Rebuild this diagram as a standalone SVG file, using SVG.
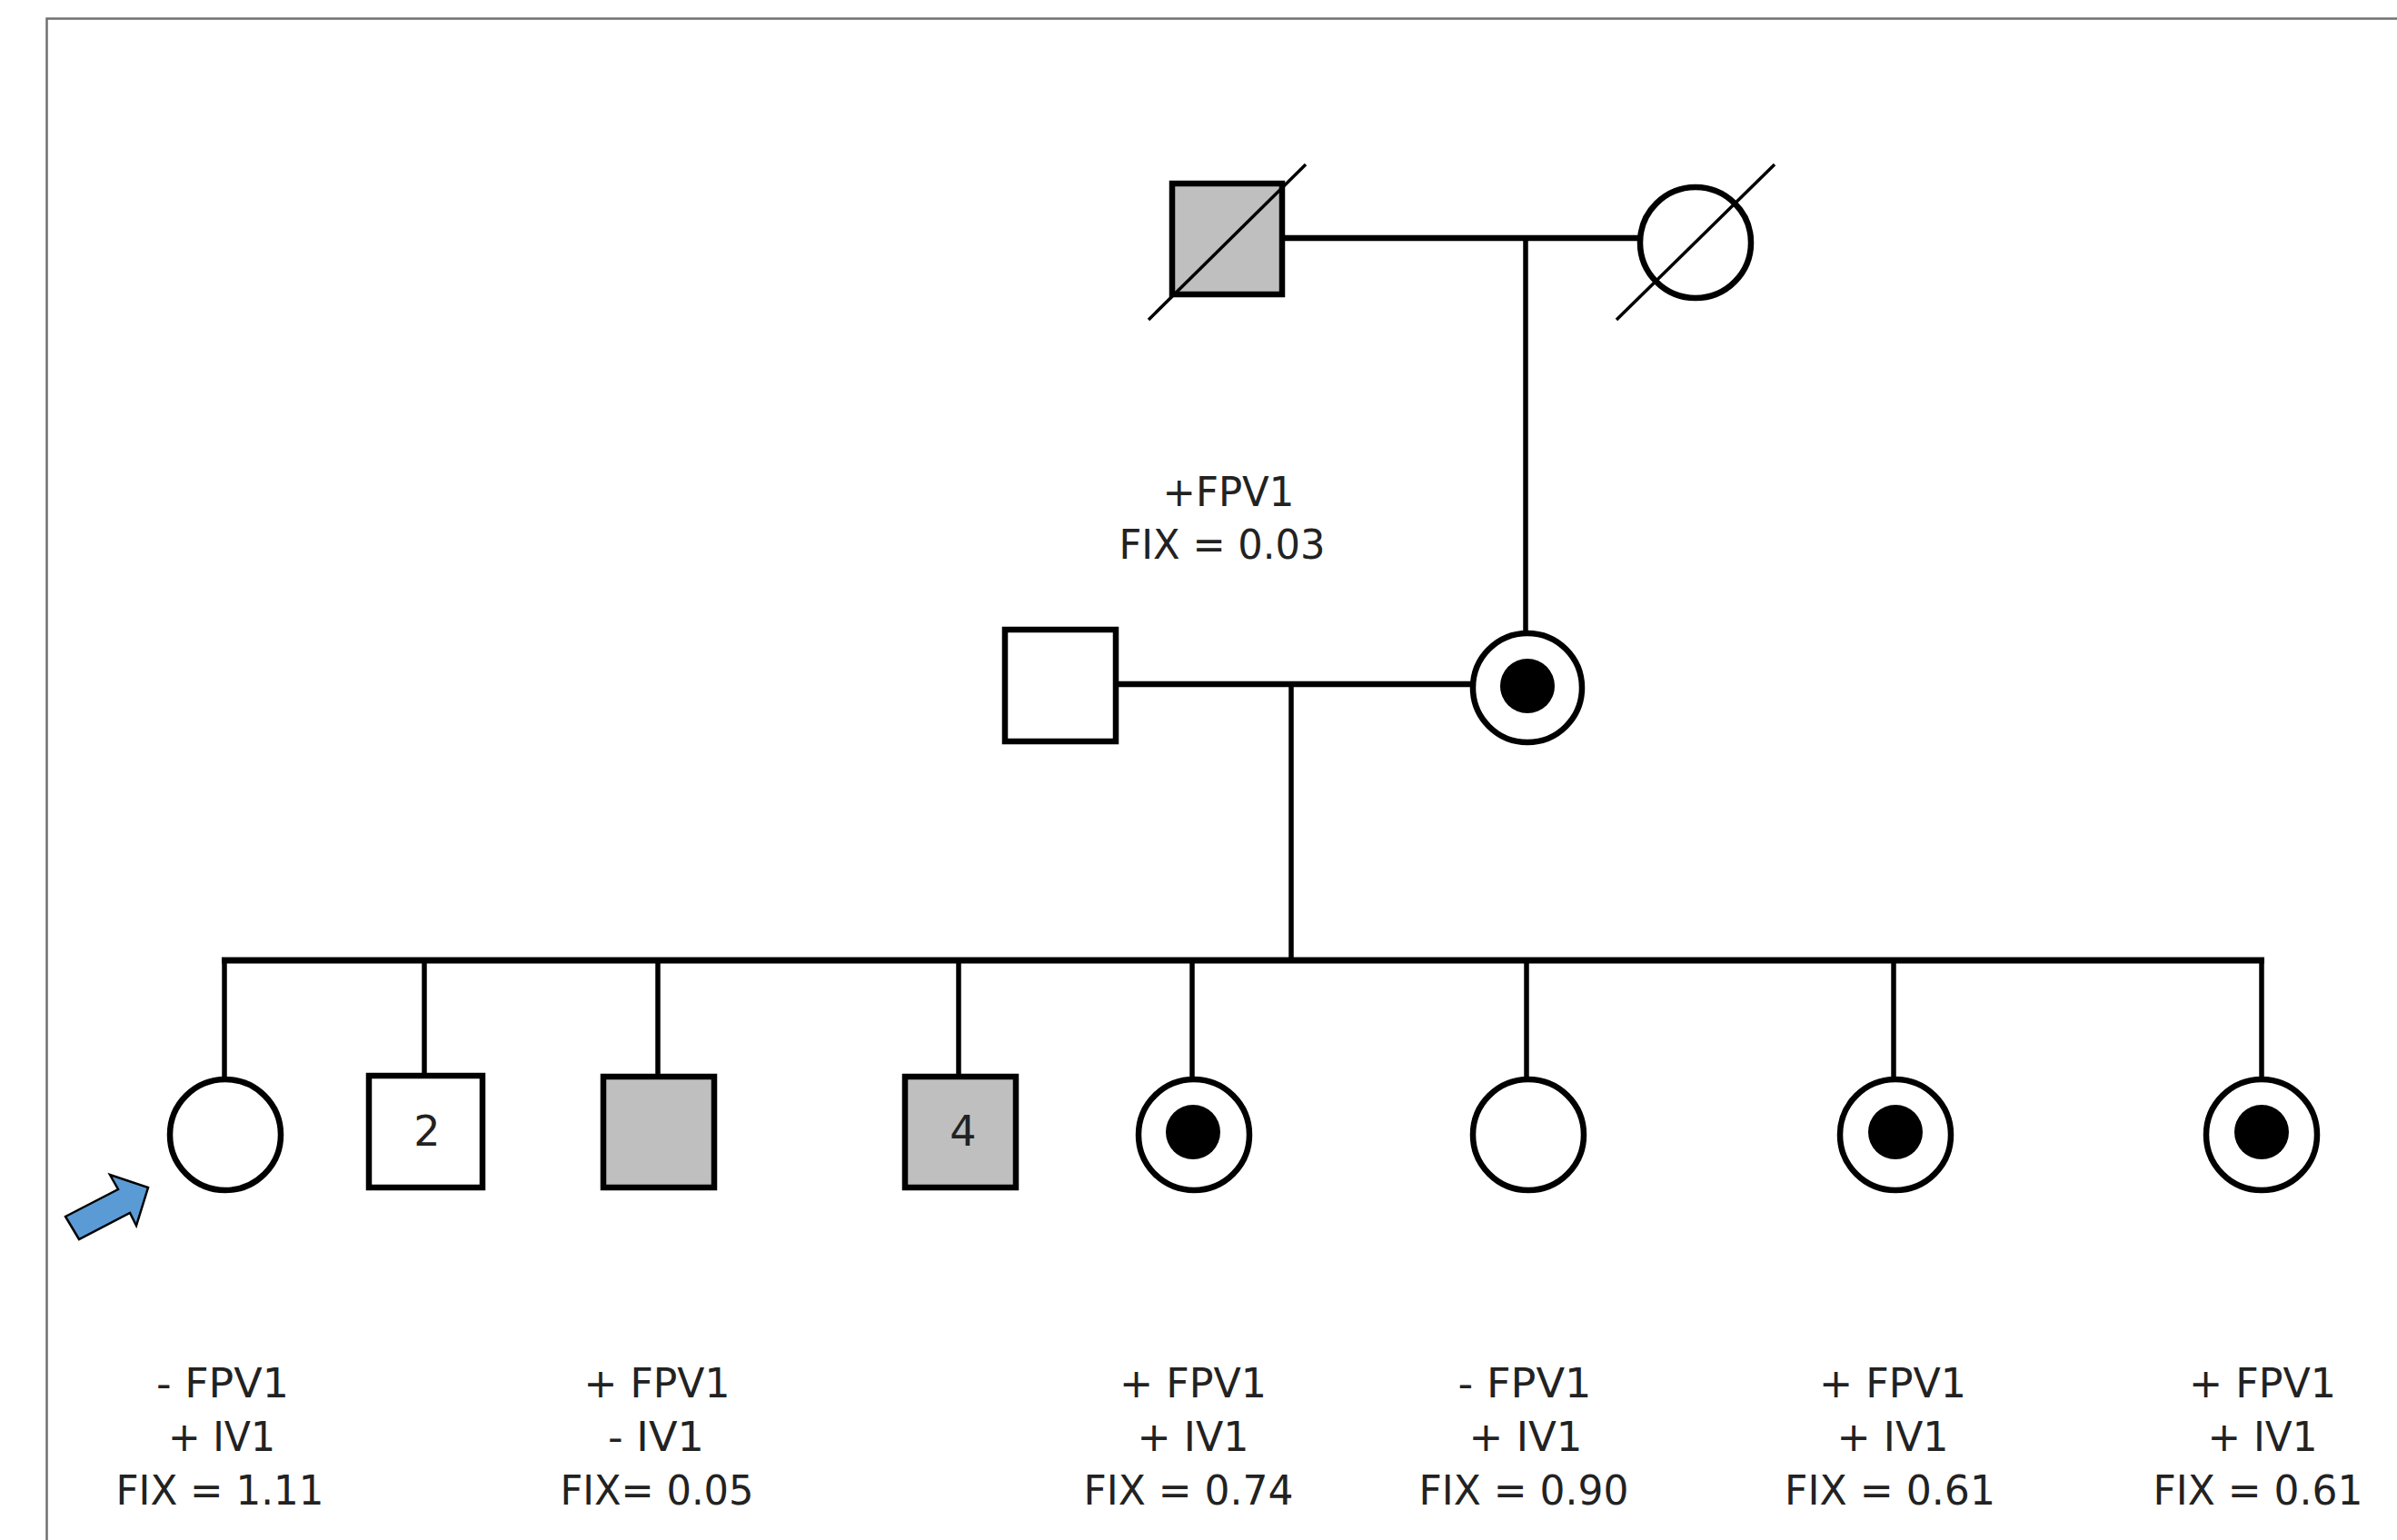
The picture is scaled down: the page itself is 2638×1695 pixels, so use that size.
<svg xmlns="http://www.w3.org/2000/svg" width="2638" height="1695" viewBox="0 0 2638 1695">
<style>
.bg{fill:#ffffff}
.frame{stroke:#707070;stroke-width:2.5;fill:none}
.ln{stroke:#000;stroke-width:5.5;fill:none;stroke-linecap:butt}
.sib{stroke:#000;stroke-width:7;fill:none}
.mar{stroke:#000;stroke-width:6.5;fill:none}
.sym{stroke:#000;stroke-width:6.5;fill:#fff}
.aff{stroke:#000;stroke-width:6.5;fill:#bfbfbf}
.dot{fill:#000}
.slash{stroke:#000;stroke-width:3.5}
.lbl{font-family:"DejaVu Sans","Liberation Sans",sans-serif;font-size:44px;fill:#222;text-anchor:middle}
.num{font-family:"DejaVu Sans","Liberation Sans",sans-serif;font-size:46px;fill:#222;text-anchor:middle}
.arrow{fill:#5b9bd5;stroke:#000;stroke-width:2.5;stroke-linejoin:miter}
</style>
<rect class="bg" x="0" y="0" width="2638" height="1695"/>
<path class="frame" d="M51.5,1695 V20.5 H2638"/>

<g id="connectors">
  <line class="mar" x1="1413" y1="262" x2="1803" y2="262"/>
  <line class="ln" x1="1679" y1="262" x2="1679" y2="694"/>
  <line class="mar" x1="1230" y1="753" x2="1620" y2="753"/>
  <line class="ln" x1="1421" y1="753" x2="1421" y2="1057"/>
  <line class="sib" x1="244" y1="1057" x2="2492" y2="1057"/>
  <line class="ln" x1="247" y1="1057" x2="247" y2="1188"/>
  <line class="ln" x1="467" y1="1057" x2="467" y2="1185"/>
  <line class="ln" x1="724" y1="1057" x2="724" y2="1185"/>
  <line class="ln" x1="1055" y1="1057" x2="1055" y2="1185"/>
  <line class="ln" x1="1312" y1="1057" x2="1312" y2="1188"/>
  <line class="ln" x1="1680" y1="1057" x2="1680" y2="1188"/>
  <line class="ln" x1="2084" y1="1057" x2="2084" y2="1188"/>
  <line class="ln" x1="2489" y1="1057" x2="2489" y2="1188"/>
</g>

<g id="grandfather">
  <rect class="aff" x="1290" y="202" width="121" height="122"/>
  <line class="slash" x1="1264" y1="352" x2="1437" y2="181"/>
</g>
<g id="grandmother">
  <circle class="sym" cx="1866" cy="267" r="61"/>
  <line class="slash" x1="1779" y1="352" x2="1953" y2="181"/>
</g>

<g id="mother-label">
  <text class="lbl" x="1352" y="557" textLength="145" lengthAdjust="spacingAndGlyphs">+FPV1</text>
  <text class="lbl" x="1345" y="615" textLength="227" lengthAdjust="spacingAndGlyphs">FIX = 0.03</text>
</g>

<g id="father">
  <rect class="sym" x="1106" y="693" width="122" height="123"/>
</g>
<g id="mother">
  <circle class="sym" cx="1681" cy="757" r="60"/>
  <circle class="dot" cx="1681" cy="755" r="30"/>
</g>

<g id="child1">
  <circle class="sym" cx="248" cy="1249" r="61"/>
</g>
<g id="child2">
  <rect class="sym" x="406" y="1184" width="125" height="123"/>
  <text class="num" x="470" y="1261">2</text>
</g>
<g id="child3">
  <rect class="aff" x="664" y="1185" width="122" height="122"/>
</g>
<g id="child4">
  <rect class="aff" x="996" y="1185" width="122" height="122"/>
  <text class="num" x="1060" y="1261">4</text>
</g>
<g id="child5">
  <circle class="sym" cx="1314" cy="1249" r="61"/>
  <circle class="dot" cx="1313" cy="1246" r="30"/>
</g>
<g id="child6">
  <circle class="sym" cx="1682" cy="1249" r="61"/>
</g>
<g id="child7">
  <circle class="sym" cx="2086" cy="1249" r="61"/>
  <circle class="dot" cx="2086" cy="1246" r="30"/>
</g>
<g id="child8">
  <circle class="sym" cx="2489" cy="1249" r="61"/>
  <circle class="dot" cx="2489" cy="1246" r="30"/>
</g>

<g id="proband-arrow">
  <polygon class="arrow" points="72,1339 130,1309 121,1293 163,1307 150,1349 143,1335 87,1364"/>
</g>

<g id="labels">
  <text class="lbl" x="245" y="1538" textLength="146" lengthAdjust="spacingAndGlyphs">- FPV1</text>
  <text class="lbl" x="244" y="1597" textLength="118" lengthAdjust="spacingAndGlyphs">+ IV1</text>
  <text class="lbl" x="242" y="1656" textLength="229" lengthAdjust="spacingAndGlyphs">FIX = 1.11</text>

  <text class="lbl" x="723" y="1538" textLength="161" lengthAdjust="spacingAndGlyphs">+ FPV1</text>
  <text class="lbl" x="722" y="1597" textLength="106" lengthAdjust="spacingAndGlyphs">- IV1</text>
  <text class="lbl" x="723" y="1656" textLength="213" lengthAdjust="spacingAndGlyphs">FIX= 0.05</text>

  <text class="lbl" x="1313" y="1538" textLength="162" lengthAdjust="spacingAndGlyphs">+ FPV1</text>
  <text class="lbl" x="1313" y="1597" textLength="123" lengthAdjust="spacingAndGlyphs">+ IV1</text>
  <text class="lbl" x="1308" y="1656" textLength="231" lengthAdjust="spacingAndGlyphs">FIX = 0.74</text>

  <text class="lbl" x="1678" y="1538" textLength="147" lengthAdjust="spacingAndGlyphs">- FPV1</text>
  <text class="lbl" x="1679" y="1597" textLength="125" lengthAdjust="spacingAndGlyphs">+ IV1</text>
  <text class="lbl" x="1677" y="1656" textLength="231" lengthAdjust="spacingAndGlyphs">FIX = 0.90</text>

  <text class="lbl" x="2083" y="1538" textLength="162" lengthAdjust="spacingAndGlyphs">+ FPV1</text>
  <text class="lbl" x="2083" y="1597" textLength="123" lengthAdjust="spacingAndGlyphs">+ IV1</text>
  <text class="lbl" x="2080" y="1656" textLength="232" lengthAdjust="spacingAndGlyphs">FIX = 0.61</text>

  <text class="lbl" x="2490" y="1538" textLength="162" lengthAdjust="spacingAndGlyphs">+ FPV1</text>
  <text class="lbl" x="2490" y="1597" textLength="121" lengthAdjust="spacingAndGlyphs">+ IV1</text>
  <text class="lbl" x="2485" y="1656" textLength="231" lengthAdjust="spacingAndGlyphs">FIX = 0.61</text>
</g>
</svg>
